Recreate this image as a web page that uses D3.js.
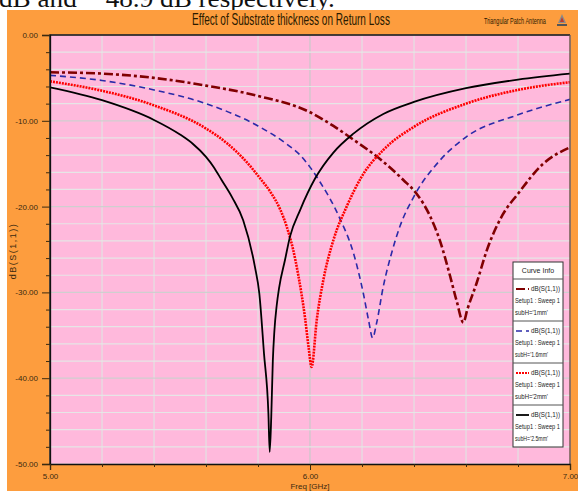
<!DOCTYPE html>
<html lang="en">
<head>
    <meta charset="UTF-8">
    <title>Effect of Substrate thickness on Return Loss</title>
    <script src="https://d3js.org/d3.v7.min.js"></script>
    <style>
        body { margin: 0; background: #fff; }
        .tick-label { font-family: "Liberation Sans Narrow", "Arial Narrow", "Liberation Sans", sans-serif; font-size: 8px; fill: #3a2a10; }
        .legend-text { font-family: "Liberation Sans Narrow", "Arial Narrow", "Liberation Sans", sans-serif; font-size: 7px; fill: #222; }
    </style>
</head>
<body>
    <div id="chart"></div>

    <script>
        // Données (fréquence en GHz, dB(S(1,1)))
        const freqH1 = [5.0, 5.2, 5.4, 5.6, 5.8, 6.0, 6.09, 6.167, 6.275, 6.359, 6.41, 6.46, 6.50, 6.538, 6.564, 6.59, 6.605, 6.641, 6.68, 6.74, 6.80, 6.897, 7.0];
        const dbH1 = [-4.35, -4.5, -5.0, -5.9, -7.1, -9.0, -10.6, -12.2, -14.6, -16.9, -18.5, -21.0, -24.0, -28.0, -31.0, -33.5, -32.0, -28.9, -25.1, -21.0, -18.5, -15.0, -13.1];

        const freqH16 = [5.0, 5.2, 5.4, 5.6, 5.8, 5.91, 5.962, 6.0, 6.038, 6.115, 6.167, 6.205, 6.225, 6.241, 6.256, 6.282, 6.314, 6.346, 6.40, 6.50, 6.60, 6.80, 7.0];
        const dbH16 = [-4.7, -5.3, -6.4, -8.0, -10.6, -12.7, -14.0, -15.4, -17.1, -21.4, -25.4, -30.1, -33.2, -35.3, -33.6, -29.3, -25.4, -22.3, -18.8, -14.6, -11.9, -9.3, -7.5];

        const freqH2 = [5.0, 5.2, 5.4, 5.6, 5.68, 5.75, 5.808, 5.85, 5.885, 5.91, 5.935, 5.955, 5.981, 5.995, 6.006, 6.026, 6.051, 6.09, 6.141, 6.199, 6.282, 6.40, 6.60, 6.80, 7.0];
        const dbH2 = [-5.4, -6.5, -8.2, -10.9, -12.6, -14.6, -16.7, -18.4, -20.3, -22.3, -25.0, -28.0, -33.0, -36.5, -38.7, -33.2, -28.6, -23.9, -20.0, -16.5, -13.4, -10.7, -8.0, -6.4, -5.5];

        const freqH25 = [5.0, 5.2, 5.4, 5.5, 5.55, 5.6, 5.63, 5.66, 5.7, 5.743, 5.788, 5.805, 5.823, 5.84, 5.845, 5.851, 5.857, 5.863, 5.872, 5.881, 5.904, 5.923, 5.962, 6.02, 6.09, 6.167, 6.282, 6.40, 6.60, 6.80, 7.0];
        const dbH25 = [-6.1, -7.6, -9.9, -11.6, -12.7, -14.2, -15.4, -16.9, -18.9, -21.6, -27.0, -30.1, -37.1, -44.1, -48.6, -44.5, -38.0, -34.5, -31.5, -29.5, -26.2, -23.5, -20.4, -16.7, -13.7, -11.5, -9.2, -7.8, -6.2, -5.2, -4.5];

        const seriesNames = ["subH='1mm'", "subH='1.6mm'", "subH='2mm'", "subH='2.5mm'"];
        const yMajorTicks = [0, -10, -20, -30, -40, -50];
        const xMajorTicks = [5, 6, 7];

        const series = [
            {name: seriesNames[0], freq: freqH1, db: dbH1, color: "#800000", width: 2.6, dash: "9,3,3,3"},
            {name: seriesNames[1], freq: freqH16, db: dbH16, color: "#2a2aa8", width: 1.6, dash: "6,4"},
            {name: seriesNames[2], freq: freqH2, db: dbH2, color: "#ff0000", width: 2.6, dash: "2,1"},
            {name: seriesNames[3], freq: freqH25, db: dbH25, color: "#000000", width: 1.8, dash: null}
        ];

        const W = 578, H = 491;
        const plot = {left: 50, right: 570, top: 35, bottom: 464};

        const svg = d3.select("#chart").append("svg")
            .attr("width", W).attr("height", H);

        // Texte compressé horizontalement à une largeur donnée (styles posés avant la mesure)
        function squeezedText(g, txt, px, py, width, anchor, family, size, color) {
            const t = g.append("text")
                .attr("text-anchor", anchor)
                .style("font-family", family)
                .style("font-size", size + "px")
                .attr("fill", color)
                .text(txt);
            const natural = t.node().getComputedTextLength();
            t.attr("transform", `translate(${px},${py}) scale(${width / natural},1)`);
            return t;
        }

        // Texte du document, coupé en haut
        squeezedText(svg, "dB and \u2212 48.9 dB respectively.", -1, 7, 336, "start",
            "'Liberation Serif', 'DejaVu Serif', serif", 26, "#111");

        // Fond orange
        svg.append("rect")
            .attr("x", 7).attr("y", 10).attr("width", W - 7).attr("height", H - 10)
            .attr("fill", "#fd9d3e");

        // Zone de tracé
        svg.append("rect")
            .attr("x", plot.left).attr("y", plot.top)
            .attr("width", plot.right - plot.left).attr("height", plot.bottom - plot.top)
            .attr("fill", "#ffb9dc");

        const x = d3.scaleLinear().domain([5, 7]).range([plot.left, plot.right]);
        const y = d3.scaleLinear().domain([-50, 0]).range([plot.bottom, plot.top]);

        // Grille
        const xGrid = d3.range(5, 7.0001, 0.2);
        const yGrid = d3.range(-50, 0.0001, 2);
        svg.append("g").selectAll("line").data(xGrid).join("line")
            .attr("x1", d => x(d)).attr("x2", d => x(d))
            .attr("y1", plot.top).attr("y2", plot.bottom)
            .attr("stroke", d => Math.abs(d - Math.round(d)) < 1e-6 ? "#c9c9c9" : "#e2e2e2")
            .attr("stroke-width", 1.2);
        svg.append("g").selectAll("line").data(yGrid).join("line")
            .attr("x1", plot.left).attr("x2", plot.right)
            .attr("y1", d => y(d)).attr("y2", d => y(d))
            .attr("stroke", d => Math.abs(d % 10) < 1e-6 ? "#cfcfcf" : "#e6e6e6")
            .attr("stroke-width", 1.2);

        // Courbes
        svg.append("clipPath").attr("id", "clip")
            .append("rect")
            .attr("x", plot.left).attr("y", plot.top)
            .attr("width", plot.right - plot.left).attr("height", plot.bottom - plot.top);

        const line = d3.line()
            .x(d => x(d[0]))
            .y(d => y(d[1]))
            .curve(d3.curveMonotoneX);

        svg.append("g").attr("clip-path", "url(#clip)")
            .selectAll("path").data(series).join("path")
            .attr("d", s => line(s.freq.map((f, i) => [f, s.db[i]])))
            .attr("fill", "none")
            .attr("stroke", s => s.color)
            .attr("stroke-width", s => s.width)
            .attr("stroke-dasharray", s => s.dash);

        // Bordure du tracé
        svg.append("path")
            .attr("d", `M${plot.left},${plot.bottom}V${plot.top}H${plot.right}`)
            .attr("fill", "none").attr("stroke", "#111").attr("stroke-width", 1.3);
        svg.append("line")
            .attr("x1", plot.right).attr("x2", plot.right)
            .attr("y1", plot.top).attr("y2", plot.bottom)
            .attr("stroke", "#6a4a40").attr("stroke-width", 1.3);

        // Axe Y
        svg.append("g")
            .attr("transform", `translate(${plot.left},0)`)
            .call(d3.axisLeft(y).tickValues(yMajorTicks).tickSize(8).tickPadding(4)
                .tickFormat(d => d.toFixed(2)));
        svg.append("g")
            .attr("transform", `translate(${plot.left},0)`)
            .call(d3.axisLeft(y).tickValues(yGrid.filter(d => d % 10 !== 0)).tickSize(4).tickFormat(""))
            .call(g => g.select(".domain").remove());

        // Axe X
        svg.append("g")
            .attr("transform", `translate(0,${plot.bottom})`)
            .call(d3.axisBottom(x).tickValues(xMajorTicks).tickSize(6).tickPadding(3)
                .tickFormat(d => d.toFixed(2)));
        svg.append("g")
            .attr("transform", `translate(0,${plot.bottom})`)
            .call(d3.axisBottom(x).tickValues(xGrid.filter(d => Math.abs(d - Math.round(d)) > 1e-6)).tickSize(3).tickFormat(""))
            .call(g => g.select(".domain").remove());

        svg.selectAll(".domain").attr("stroke", "#111").attr("stroke-width", 1.3);
        svg.selectAll(".tick line").attr("stroke", "#3a2a10");
        svg.selectAll(".tick text").attr("class", "tick-label").attr("fill", null);

        // Libellés des axes
        svg.append("text")
            .attr("class", "tick-label")
            .attr("transform", "translate(16,251) rotate(-90)")
            .attr("text-anchor", "middle")
            .style("font-size", "9px")
            .style("letter-spacing", "1.5px")
            .text("dB(S(1,1))");
        svg.append("text")
            .attr("class", "tick-label")
            .attr("x", 310).attr("y", 489)
            .attr("text-anchor", "middle")
            .text("Freq [GHz]");

        // Titre et sous-titre
        squeezedText(svg, "Effect of Substrate thickness on Return Loss", 291, 25, 198, "middle",
            "'Liberation Sans', Arial, sans-serif", 16, "#2a1a00");
        squeezedText(svg, "Triangular Patch Antenna", 484, 24, 62, "start",
            "'Liberation Sans', Arial, sans-serif", 9, "#2a1a00");

        // Petit logo
        const logo = svg.append("g").attr("transform", "translate(562,14)");
        logo.append("path").attr("d", "M0,0 L-4,9 L4,9 Z").attr("fill", "#8a8a8a");
        logo.append("path").attr("d", "M0,3 L-2,8 L2,8 Z").attr("fill", "#c0392b");
        logo.append("rect").attr("x", -5).attr("y", 10).attr("width", 10).attr("height", 2).attr("fill", "#555");

        // Légende
        const leg = {x: 513, y: 262, w: 50, header: 17, row: 42};
        const legG = svg.append("g");
        legG.append("rect")
            .attr("x", leg.x).attr("y", leg.y)
            .attr("width", leg.w).attr("height", leg.header + leg.row * series.length)
            .attr("fill", "#fff").attr("stroke", "#333").attr("stroke-width", 1);
        legG.append("text")
            .attr("class", "legend-text")
            .attr("x", leg.x + leg.w / 2).attr("y", leg.y + 11)
            .attr("text-anchor", "middle")
            .text("Curve Info");

        const rows = legG.selectAll("g.row").data(series).join("g")
            .attr("class", "row")
            .attr("transform", (d, i) => `translate(${leg.x},${leg.y + leg.header + i * leg.row})`);
        rows.append("line")
            .attr("x1", 0).attr("x2", leg.w).attr("y1", 0).attr("y2", 0)
            .attr("stroke", "#555").attr("stroke-width", 1);
        rows.append("line")
            .attr("x1", 3).attr("x2", 16).attr("y1", 10).attr("y2", 10)
            .attr("stroke", d => d.color)
            .attr("stroke-width", d => Math.min(d.width, 1.8))
            .attr("stroke-dasharray", d => d.dash);
        rows.append("text").attr("class", "legend-text")
            .attr("x", 18).attr("y", 12)
            .attr("textLength", 29).attr("lengthAdjust", "spacingAndGlyphs")
            .text("dB(S(1,1))");
        rows.append("text").attr("class", "legend-text")
            .attr("x", 2).attr("y", 24)
            .attr("textLength", 45).attr("lengthAdjust", "spacingAndGlyphs")
            .text("Setup1 : Sweep 1");
        rows.append("text").attr("class", "legend-text")
            .attr("x", 2).attr("y", 36)
            .attr("textLength", 33).attr("lengthAdjust", "spacingAndGlyphs")
            .text(d => d.name);
    </script>
</body>
</html>
